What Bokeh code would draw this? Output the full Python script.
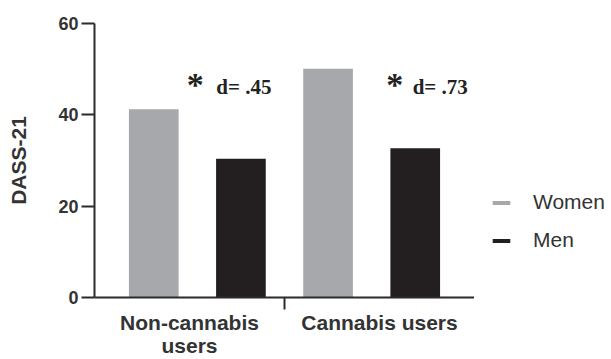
from bokeh.plotting import figure
from bokeh.layouts import row
from bokeh.models import (FactorRange, Legend, LegendItem, ColumnDataSource,
                          FixedTicker, LinearAxis, CategoricalAxis)
from bokeh.core.properties import value
from bokeh.embed import file_html
from bokeh.resources import INLINE

groups = ["Non-cannabis\nusers", "Cannabis users"]
sexes = ["Women", "Men"]
women_scores = [41.2, 50.1]
men_scores = [30.4, 32.7]
effect_labels = ["d= .45", "d= .73"]
y_ticks = [0, 20, 40, 60]

sex_colors = {"Women": "#a7a8ab", "Men": "#231f20"}

factors = []
tops = []
fills = []
for g, w, m in zip(groups, women_scores, men_scores):
    factors += [(g, "Women"), (g, "Men")]
    tops += [w, m]
    fills += [sex_colors["Women"], sex_colors["Men"]]

src = ColumnDataSource(dict(x=factors, top=tops, color=fills))

p = figure(width=474, height=359, output_backend="svg", toolbar_location=None,
           x_range=FactorRange(*factors, factor_padding=0, group_padding=0,
                               range_padding=0.09),
           y_range=(0, 60), x_axis_location=None,
           min_border_left=94, min_border_right=0, min_border_top=23,
           min_border_bottom=61)
p.outline_line_color = None
p.xgrid.grid_line_color = None
p.ygrid.grid_line_color = None

r = p.vbar(x="x", top="top", width=0.57, source=src, fill_color="color",
           line_color=None)

axis_color = "#2b2b2b"
text_color = "#333333"

# y axis
ya = p.yaxis[0]
ya.ticker = FixedTicker(ticks=y_ticks)
ya.axis_label = "DASS-21"
ya.axis_label_text_font = "Liberation Sans"
ya.axis_label_text_font_style = "bold"
ya.axis_label_text_font_size = "21px"
ya.axis_label_text_color = text_color
ya.axis_label_standoff = 25
ya.major_label_text_font = "Liberation Sans"
ya.major_label_text_font_style = "bold"
ya.major_label_text_font_size = "18px"
ya.major_label_text_color = text_color
ya.major_label_standoff = 3
ya.axis_line_color = axis_color
ya.axis_line_width = 2
ya.major_tick_line_color = axis_color
ya.major_tick_line_width = 2
ya.major_tick_out = 13
ya.major_tick_in = 0
ya.minor_tick_line_color = None

# x axes: one for the baseline and the tick between the groups, one for group labels
sep_ticks = [len(sexes) * i for i in range(1, len(groups))]
sep_axis = LinearAxis(ticker=FixedTicker(ticks=sep_ticks))
sep_axis.axis_line_color = axis_color
sep_axis.axis_line_width = 2
sep_axis.major_tick_line_color = axis_color
sep_axis.major_tick_line_width = 2
sep_axis.major_tick_out = 12
sep_axis.major_tick_in = 0
sep_axis.minor_tick_line_color = None
sep_axis.major_label_overrides = {t: "" for t in sep_ticks}
sep_axis.major_label_text_font_size = "1px"
sep_axis.major_label_standoff = 0
p.add_layout(sep_axis, "below")

p.extra_x_ranges = {"grp": FactorRange(*groups, range_padding=0)}
grp_axis = CategoricalAxis(x_range_name="grp")
grp_axis.axis_line_color = None
grp_axis.major_tick_line_color = None
grp_axis.minor_tick_line_color = None
grp_axis.major_label_text_font = "Liberation Sans"
grp_axis.major_label_text_font_style = "bold"
grp_axis.major_label_text_font_size = "21px"
grp_axis.major_label_text_color = text_color
grp_axis.major_label_text_line_height = 1.0
grp_axis.major_label_standoff = -5
p.add_layout(grp_axis, "below")

# annotations
for g, lab, so, do in zip(groups, effect_labels, [-2, 23], [19, 41]):
    p.text(x=[g], y=[46.6], text=["*"], text_font=value("Liberation Serif"),
           text_font_size="34px", text_font_style="bold", text_color="#222222",
           text_align="center", text_baseline="alphabetic", x_offset=so)
    p.text(x=[g], y=[46.2], text=[lab], text_font=value("Liberation Serif"),
           text_font_size="21px", text_font_style="bold", text_color="#222222",
           text_align="left", text_baseline="alphabetic", x_offset=do)

# legend panel on the right: zero-height proxy bars carry the legend keys
q = figure(width=137, height=359, output_backend="svg", toolbar_location=None,
           x_range=FactorRange(*sexes), y_range=(0, 1),
           x_axis_location=None, y_axis_location=None, min_border=0)
q.outline_line_color = None
q.grid.visible = False
key_src = ColumnDataSource(dict(x=sexes, top=[0] * len(sexes),
                                color=[sex_colors[s] for s in sexes]))
key_r = q.vbar(x="x", top="top", width=0.5, source=key_src, fill_color="color",
               line_color=None)
legend = Legend(items=[LegendItem(label=s, renderers=[key_r], index=i)
                       for i, s in enumerate(sexes)],
                location=(16, 44), orientation="vertical")
legend.border_line_color = None
legend.background_fill_color = None
legend.padding = 0
legend.margin = 0
legend.label_height = 26
legend.spacing = 12
legend.glyph_width = 22
legend.glyph_height = 5
legend.label_standoff = 21
legend.label_text_font = "Liberation Sans"
legend.label_text_font_size = "21px"
legend.label_text_color = text_color
q.add_layout(legend, "center")

layout = row(p, q, spacing=0)
open("out.html", "w").write(file_html(layout, INLINE))
